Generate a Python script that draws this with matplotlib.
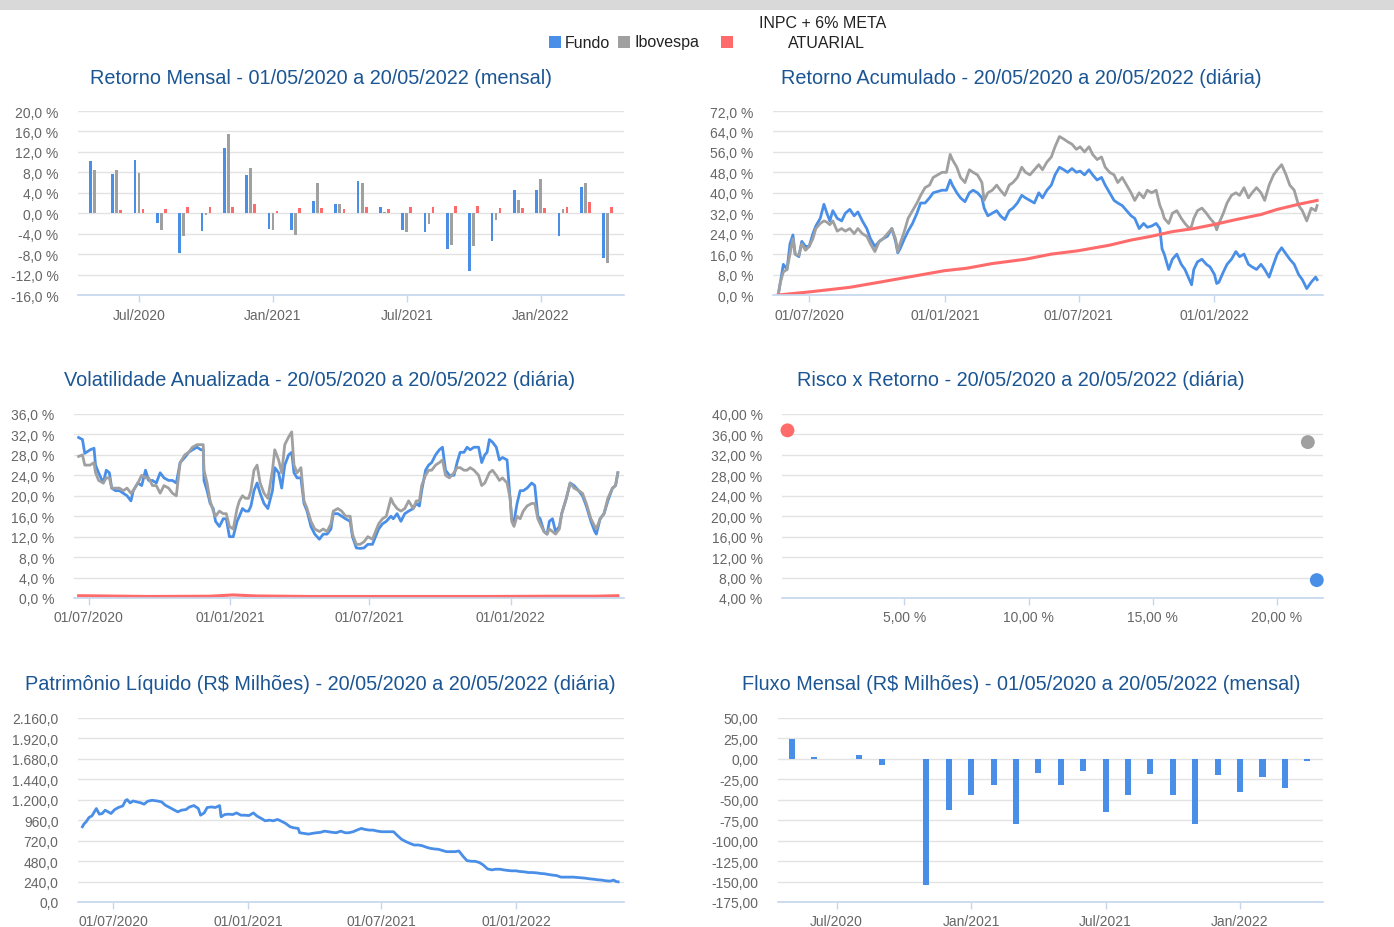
import matplotlib
matplotlib.use('Agg')
import matplotlib.pyplot as plt
from matplotlib.patches import Rectangle
from matplotlib.ticker import FuncFormatter
import matplotlib.dates as mdates
import numpy as np
import pandas as pd

plt.rcParams['font.family'] = ['Liberation Sans', 'DejaVu Sans']

AZUL = '#4a8fe7'
CINZA = '#a0a0a0'
VERMELHO = '#ff6b6b'
TITULO = '#1b5593'
TEXTO = '#666666'
GRADE = '#e3e3e3'
EIXO = '#c5d6ee'

# ---------------- dados mensais ----------------
meses = ['05/2020', '06/2020', '07/2020', '08/2020', '09/2020', '10/2020', '11/2020', '12/2020',
         '01/2021', '02/2021', '03/2021', '04/2021', '05/2021', '06/2021', '07/2021', '08/2021',
         '09/2021', '10/2021', '11/2021', '12/2021', '01/2022', '02/2022', '03/2022', '04/2022']
ret_fundo = [10.2, 7.65, 10.4, -1.9, -7.8, -3.5, 12.7, 7.4, -3.0, -3.2, 2.3, 1.9,
             6.4, 1.3, -3.2, -3.7, -7.0, -11.4, -5.5, 4.6, 4.6, -4.5, 5.1, -8.7]
ret_ibov = [8.4, 8.4, 7.8, -3.2, -4.5, -0.4, 15.5, 8.9, -3.2, -4.2, 5.9, 1.9,
            5.9, 0.3, -3.7, -2.2, -6.2, -6.5, -1.4, 2.6, 6.6, 0.8, 5.9, -9.8]
ret_meta = [0.0, 0.6, 0.8, 0.8, 1.3, 1.3, 1.3, 1.8, 0.5, 1.0, 1.0, 0.8,
            1.3, 0.8, 1.3, 1.3, 1.5, 1.5, 1.0, 1.0, 1.0, 1.3, 2.1, 1.3]
fluxo = [24.0, 2.4, 0.0, 5.3, -7.0, 0.0, -154.0, -62.0, -44.5, -31.4, -79.6, -16.7,
         -31.4, -15.0, -65.0, -44.5, -18.4, -44.5, -79.6, -20.0, -40.8, -21.6, -35.9, -2.4]
marcas_mes = {'07/2020': 'Jul/2020', '01/2021': 'Jan/2021', '07/2021': 'Jul/2021', '01/2022': 'Jan/2022'}

# ---------------- dados diarios (dias desde 20/05/2020) ----------------
inicio = pd.Timestamp('2020-05-20')

dias_acum = [0, 3, 7, 12, 16, 20, 23, 28, 32, 37,
             42, 47, 51, 57, 62, 66, 70, 74, 80, 86,
             91, 97, 103, 108, 114, 120, 125, 131, 137, 142,
             148, 154, 159, 162, 165, 171, 176, 182, 188, 193,
             199, 205, 210, 216, 222, 228, 233, 236, 242, 247,
             253, 259, 264, 270, 276, 279, 284, 290, 296, 301,
             307, 313, 318, 324, 330, 335, 341, 347, 353, 358,
             364, 370, 375, 381, 387, 392, 398, 404, 409, 415,
             421, 426, 432, 438, 443, 449, 455, 460, 466, 472,
             478, 483, 489, 495, 500, 506, 512, 517, 520, 523,
             529, 534, 540, 546, 551, 557, 560, 563, 568, 574,
             580, 585, 591, 594, 597, 603, 608, 614, 620, 625,
             631, 637, 642, 648, 654, 659, 665, 671, 676, 682,
             688, 693, 699, 705, 710, 716, 722, 728, 730]
acum_fundo = [0, 5, 12, 10, 20, 23.5, 16, 15, 21, 19,
              19, 24, 27, 30, 35.5, 32, 29, 33, 30, 29,
              32, 33.5, 31, 32.5, 29, 26, 22, 19, 21, 22,
              23, 26, 21, 16.5, 18, 22, 25, 28, 32, 36,
              36, 38, 40, 40.5, 41, 41, 45, 43, 40, 38,
              36.5, 40, 41, 40, 38, 34, 31, 32, 33, 31,
              29.5, 33, 34, 36, 39, 38, 37, 36, 40, 38,
              41, 43, 47, 50, 49, 48, 49.5, 48, 48.5, 47,
              49, 47, 45, 46, 43, 40, 37, 36, 35, 33,
              31, 30, 26, 28, 26.5, 27, 28, 26, 18, 16,
              10, 14, 16, 12, 10, 6, 4, 10, 13, 14,
              12, 11, 8, 4.5, 5, 9, 12, 14, 17, 15,
              16, 12, 11, 10, 12, 10, 7, 12, 16, 18.5,
              16, 14, 12, 8, 6, 2.5, 5, 7, 6]
acum_ibov = [0, 5, 9, 10, 16, 22, 16, 15.5, 20, 17.5,
             19, 22, 26, 28, 29, 28.5, 27.5, 29, 25, 26,
             25, 26, 24, 26, 24, 23, 20, 17, 21, 22,
             24, 26, 22, 17, 20, 25, 30, 33, 36, 39,
             42, 43, 46, 47, 48, 48, 55, 53, 50, 46,
             44, 49, 48, 47, 44, 37, 40, 41, 43, 41,
             39, 43, 44, 46, 50, 48, 47, 49, 51, 49,
             52, 54, 58, 62, 61, 60, 59, 57, 58, 56,
             58, 55, 53, 54, 50, 48, 47, 44, 46, 43,
             40, 37, 40, 38, 41, 40, 41, 35, 33, 30,
             28, 32, 33, 30, 28, 26, 27, 30, 33, 34,
             32, 30, 28, 25.5, 28, 32, 36, 39, 40, 39,
             42, 38, 40, 42, 40, 37, 43, 47, 49, 51,
             47, 43, 41, 35, 33, 29, 34, 33, 35]
dias_meta = [0, 42, 97, 137, 182, 225, 256, 290, 335, 370, 406,
             449, 478, 506, 534, 563, 589, 620, 654, 676, 705, 730]
acum_meta = [0, 1.2, 3.0, 5.0, 7.3, 9.5, 10.5, 12.3, 14.0, 16.0, 17.3,
             19.5, 21.5, 23.0, 24.8, 26.0, 27.5, 29.5, 31.5, 33.5, 35.5, 37.0]

dias_vol = [29, 34, 37, 44, 49, 51, 55, 61, 65, 69,
            72, 77, 82, 87, 92, 97, 100, 106, 111, 116,
            120, 125, 130, 135, 140, 146, 151, 156, 161, 167,
            172, 177, 183, 188, 191, 192, 196, 200, 204, 207,
            212, 217, 221, 225, 230, 235, 238, 242, 246, 250,
            253, 257, 261, 265, 270, 275, 281, 284, 289, 293,
            297, 302, 306, 309, 313, 318, 322, 326, 331, 336,
            342, 347, 352, 357, 360, 366, 371, 376, 382, 385,
            390, 395, 400, 405, 411, 415, 419, 424, 429, 435,
            438, 443, 448, 453, 458, 464, 468, 472, 475, 480,
            484, 488, 493, 498, 502, 506, 511, 517, 521, 525,
            530, 534, 538, 543, 549, 553, 557, 560, 563, 567,
            572, 576, 580, 586, 590, 592, 595, 599, 603, 607,
            612, 618, 622, 626, 629, 634, 638, 641, 645, 649,
            654, 657, 663, 668, 673, 679, 684, 689, 695, 700,
            702, 707, 712, 717, 723, 727, 730]
vol_fundo = [31.4, 31.0, 28.3, 29.0, 29.3, 26.0, 24.5, 22.5, 25.0, 24.5,
             21.5, 21.0, 21.0, 20.5, 20.0, 19.0, 21.0, 22.5, 22.0, 25.0,
             23.0, 23.0, 22.5, 24.5, 23.5, 23.0, 23.0, 22.5, 26.5, 27.5,
             28.5, 29.0, 29.5, 29.0, 29.0, 23.0, 21.0, 18.5, 17.5, 15.0,
             14.0, 15.5, 15.5, 12.0, 12.0, 15.0, 16.0, 17.5, 17.0, 17.0,
             18.0, 21.0, 22.5, 20.5, 18.5, 17.5, 21.0, 25.5, 24.5, 21.5,
             26.0, 28.0, 28.5, 24.5, 23.5, 23.5, 18.5, 17.0, 14.0, 12.5,
             11.5, 12.5, 12.5, 13.5, 16.5, 16.5, 16.0, 15.5, 15.0, 12.0,
             9.8, 9.7, 9.8, 10.5, 10.5, 12.0, 13.5, 14.5, 15.0, 16.0,
             15.5, 16.5, 15.0, 16.5, 17.0, 17.5, 18.5, 18.0, 21.0, 25.0,
             26.0, 26.5, 28.0, 29.0, 29.5, 25.0, 24.0, 24.0, 26.5, 28.5,
             28.5, 29.5, 29.0, 29.5, 29.5, 26.5, 28.0, 28.5, 31.0, 30.5,
             29.5, 27.0, 27.5, 27.0, 19.5, 15.5, 15.0, 18.5, 21.0, 21.0,
             21.5, 22.5, 22.0, 16.0, 15.5, 13.0, 12.5, 15.0, 15.5, 13.0,
             14.0, 16.5, 19.5, 22.5, 22.0, 21.0, 20.0, 18.0, 15.0, 13.0,
             12.5, 15.5, 16.5, 19.0, 21.5, 22.0, 24.5]
vol_ibov = [27.7, 28.0, 26.0, 26.0, 26.5, 24.5, 23.0, 22.5, 23.5, 23.5,
            21.5, 21.5, 21.5, 21.0, 21.5, 20.5, 21.0, 22.5, 24.0, 23.5,
            23.5, 22.0, 22.0, 20.5, 22.0, 21.5, 20.5, 20.0, 26.5, 28.0,
            28.5, 29.5, 30.0, 30.0, 30.0, 25.0, 22.5, 19.0, 17.0, 16.0,
            17.0, 16.5, 16.5, 14.0, 13.5, 17.5, 19.0, 20.0, 19.5, 19.5,
            21.0, 25.0, 26.0, 22.5, 20.5, 19.5, 25.0, 29.0, 27.0, 24.5,
            30.0, 31.5, 32.5, 26.0, 24.5, 25.5, 19.0, 17.5, 15.0, 13.5,
            13.0, 13.5, 13.0, 14.5, 17.0, 17.5, 17.0, 16.0, 16.0, 12.5,
            10.5, 10.5, 11.0, 12.0, 11.5, 13.0, 14.5, 15.5, 16.0, 19.5,
            18.5, 17.5, 17.0, 17.5, 19.0, 17.5, 19.0, 19.0, 22.0, 24.0,
            25.0, 25.0, 26.0, 26.5, 27.0, 24.0, 23.5, 24.5, 25.5, 25.5,
            25.0, 25.0, 25.5, 25.0, 24.0, 22.0, 22.5, 23.5, 24.5, 25.0,
            24.0, 23.0, 23.5, 22.5, 19.5, 15.0, 14.0, 16.0, 15.5, 17.0,
            18.0, 18.5, 18.5, 15.5, 14.5, 13.0, 12.5, 13.5, 13.0, 12.5,
            13.5, 16.5, 19.5, 22.5, 21.5, 21.0, 20.5, 18.5, 15.5, 14.0,
            13.5, 15.5, 16.5, 19.5, 21.5, 22.0, 24.5]
dias_vol_meta = [29, 120, 200, 230, 260, 330, 450, 560, 650, 700, 730]
vol_meta = [0.45, 0.3, 0.35, 0.6, 0.4, 0.3, 0.3, 0.3, 0.35, 0.35, 0.45]

dias_pl = [0, 2, 5, 9, 13, 17, 19, 23, 27, 31,
           35, 39, 44, 49, 55, 59, 61, 65, 69, 74,
           80, 84, 89, 95, 102, 108, 113, 119, 124, 130,
           135, 141, 146, 152, 158, 161, 166, 170, 176, 181,
           187, 189, 194, 199, 205, 210, 216, 221, 227, 233,
           238, 244, 249, 255, 260, 266, 271, 277, 283, 288,
           294, 296, 302, 308, 313, 319, 324, 330, 335, 341,
           346, 352, 358, 363, 369, 374, 380, 385, 391, 396,
           402, 408, 413, 419, 424, 430, 435, 441, 446, 452,
           458, 463, 469, 474, 480, 485, 491, 496, 502, 508,
           513, 519, 524, 530, 535, 541, 546, 552, 558, 563,
           569, 574, 580, 585, 591, 596, 602, 608, 613, 619,
           624, 630, 635, 641, 646, 652, 658, 663, 669, 674,
           680, 685, 691, 696, 702, 708, 713, 719, 724, 727,
           730]
pl = [883, 914, 941, 992, 1011, 1070, 1097, 1031, 1039, 1078,
      1058, 1039, 1085, 1109, 1128, 1194, 1202, 1163, 1186, 1175,
      1163, 1148, 1183, 1194, 1186, 1175, 1136, 1109, 1085, 1058,
      1078, 1085, 1116, 1132, 1097, 1019, 1046, 1109, 1116, 1109,
      1132, 1000, 1027, 1031, 1027, 1046, 1019, 1019, 1015, 1046,
      1008, 980, 953, 961, 953, 969, 949, 922, 883, 871,
      864, 813, 805, 797, 805, 813, 817, 832, 825, 817,
      813, 832, 813, 813, 825, 844, 864, 852, 844, 844,
      832, 825, 825, 825, 825, 774, 735, 708, 689, 669,
      669, 661, 642, 630, 622, 619, 603, 591, 591, 591,
      599, 533, 486, 478, 478, 463, 436, 389, 377, 385,
      385, 377, 370, 366, 366, 358, 354, 346, 346, 342,
      335, 331, 323, 315, 311, 292, 292, 292, 292, 288,
      284, 280, 272, 268, 261, 257, 249, 245, 257, 241,
      237]

# risco x retorno: fundo, ibovespa, meta
risco = [21.6, 21.24, 0.3]
retorno = [7.5, 34.5, 36.8]
cores_risco = [AZUL, CINZA, VERMELHO]

marcas_data = ['2020-07-01', '2021-01-01', '2021-07-01', '2022-01-01']


def datas(dias):
    return inicio + pd.to_timedelta(dias, unit='D')


def fmt_pct1(v, p):
    return f'{v:.1f}'.replace('.', ',') + ' %'


def fmt_pct2(v, p):
    return f'{v:.2f}'.replace('.', ',') + ' %'


def fmt_milhar(v, p):
    return f'{v:,.1f}'.replace(',', 'X').replace('.', ',').replace('X', '.')


def fmt_dec2(v, p):
    return f'{v:.2f}'.replace('.', ',')


W, H = 1394, 928
fig = plt.figure(figsize=(W / 100, H / 100), dpi=100)
fig.patch.set_facecolor('white')


def eixo(x0, x1, ytop, ybot):
    return fig.add_axes([x0 / W, 1 - ybot / H, (x1 - x0) / W, (ybot - ytop) / H])


def estilo(ax, yticks, fmt):
    for s in ['top', 'right', 'left']:
        ax.spines[s].set_visible(False)
    ax.spines['bottom'].set_color(EIXO)
    ax.spines['bottom'].set_linewidth(1.2)
    ax.set_yticks(yticks)
    ax.set_ylim(yticks[0], yticks[-1])
    ax.yaxis.set_major_formatter(FuncFormatter(fmt))
    ax.grid(axis='y', color=GRADE, lw=1)
    ax.set_axisbelow(True)
    ax.tick_params(axis='y', length=0, pad=14, labelsize=10, labelcolor=TEXTO)
    ax.tick_params(axis='x', length=5, width=1, color=EIXO, pad=4, labelsize=10, labelcolor=TEXTO)


def eixo_datas(ax, esq, dir):
    ax.set_xlim(datas(esq), datas(dir))
    ax.set_xticks(pd.to_datetime(marcas_data))
    ax.xaxis.set_major_formatter(mdates.DateFormatter('%d/%m/%Y'))


def eixo_meses(ax, esq, dir):
    pos = [meses.index(m) for m in marcas_mes]
    ax.set_xticks(pos)
    ax.set_xticklabels(list(marcas_mes.values()))
    ax.set_xlim(esq, dir)


def titulo(x, y, txt):
    fig.text(x / W, 1 - (y + 3) / H, txt, ha='center', va='center', fontsize=14.3, color=TITULO)


# faixa cinza no topo
fig.add_artist(Rectangle((0, 1 - 11 / H), 1, 11 / H, transform=fig.transFigure,
                         color='#d9d9d9', lw=0))

# legenda
for x0, cor in [(549, AZUL), (618, CINZA), (721, VERMELHO)]:
    fig.add_artist(Rectangle((x0 / W, 1 - 49 / H), 12 / W, 12 / H, transform=fig.transFigure,
                             color=cor, lw=0))
fig.text(565 / W, 1 - 43 / H, 'Fundo', ha='left', va='center', fontsize=11.5, color='#222222')
fig.text(634 / W, 1 - 43 / H, 'Ibovespa', ha='left', va='center', fontsize=11.5, color='#222222')
fig.text(823 / W, 1 - 24 / H, 'INPC + 6% META', ha='center', va='center', fontsize=11.5, color='#222222')
fig.text(826 / W, 1 - 43 / H, 'ATUARIAL', ha='center', va='center', fontsize=11.5, color='#222222')

idx = np.arange(len(meses))

# ---------- retorno mensal ----------
ax1 = eixo(78, 624, 112, 296)
estilo(ax1, np.arange(-16, 21, 4), fmt_pct1)
ax1.bar(idx - 0.18, ret_fundo, width=0.12, color=AZUL)
ax1.bar(idx, ret_ibov, width=0.12, color=CINZA)
ax1.bar(idx + 0.18, ret_meta, width=0.12, color=VERMELHO)
eixo_meses(ax1, -0.73, len(meses) - 0.27)
titulo(321, 75, 'Retorno Mensal - 01/05/2020 a 20/05/2022 (mensal)')

# ---------- retorno acumulado ----------
ax2 = eixo(773, 1323, 112, 296)
estilo(ax2, np.arange(0, 73, 8), fmt_pct1)
ax2.plot(datas(dias_acum), acum_fundo, color=AZUL, lw=2.0)
ax2.plot(datas(dias_acum), acum_ibov, color=CINZA, lw=2.0)
ax2.plot(datas(dias_meta), acum_meta, color=VERMELHO, lw=2.2)
eixo_datas(ax2, -7, 738)
titulo(1021, 75, 'Retorno Acumulado - 20/05/2020 a 20/05/2022 (diária)')

# ---------- volatilidade ----------
ax3 = eixo(74, 624, 415, 599)
estilo(ax3, np.arange(0, 37, 4), fmt_pct1)
ax3.plot(datas(dias_vol), vol_fundo, color=AZUL, lw=2.0)
ax3.plot(datas(dias_vol), vol_ibov, color=CINZA, lw=2.0)
ax3.plot(datas(dias_vol_meta), vol_meta, color=VERMELHO, lw=2.2)
eixo_datas(ax3, 23, 738)
titulo(320, 378, 'Volatilidade Anualizada - 20/05/2020 a 20/05/2022 (diária)')

# ---------- risco x retorno ----------
ax4 = eixo(782, 1323, 415, 599)
estilo(ax4, np.arange(4, 41, 4), fmt_pct2)
ax4.scatter(risco, retorno, s=100, c=cores_risco, zorder=3, linewidths=0, clip_on=False)
ax4.set_xticks([5, 10, 15, 20])
ax4.xaxis.set_major_formatter(FuncFormatter(fmt_pct2))
ax4.set_xlim(0.08, 21.85)
titulo(1021, 378, 'Risco x Retorno - 20/05/2020 a 20/05/2022 (diária)')

# ---------- patrimonio liquido ----------
ax5 = eixo(78, 624, 719, 903)
estilo(ax5, np.arange(0, 2161, 240), fmt_milhar)
ax5.plot(datas(dias_pl), pl, color=AZUL, lw=2.0)
eixo_datas(ax5, -6, 738)
titulo(320, 682, 'Patrimônio Líquido (R$ Milhões) - 20/05/2020 a 20/05/2022 (diária)')

# ---------- fluxo mensal ----------
ax6 = eixo(778, 1323, 719, 903)
estilo(ax6, np.arange(-175, 51, 25), fmt_dec2)
ax6.bar(idx, fluxo, width=0.27, color=AZUL)
eixo_meses(ax6, -0.62, len(meses) - 0.3)
titulo(1021, 682, 'Fluxo Mensal (R$ Milhões) - 01/05/2020 a 20/05/2022 (mensal)')

fig.savefig('out.png', dpi=100, facecolor='white')
